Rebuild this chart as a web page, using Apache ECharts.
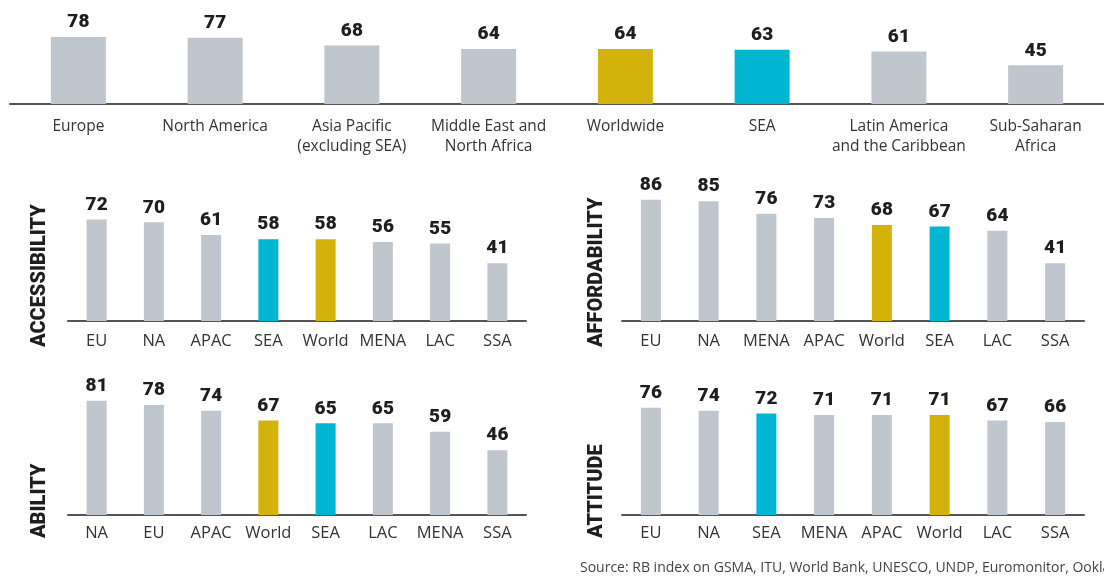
<!DOCTYPE html>
<html>
<head>
<meta charset="utf-8">
<script src="https://cdn.jsdelivr.net/npm/echarts@6/dist/echarts.min.js"></script>
<style>
  html, body { margin: 0; padding: 0; background: #fff; }
  #chart { width: 1104px; height: 578px; }
</style>
</head>
<body>
<div id="chart"></div>
<script>
// data
var overallCats = ['Europe', 'North America', 'Asia Pacific\n(excluding SEA)', 'Middle East and\nNorth Africa',
  'Worldwide', 'SEA', 'Latin America\nand the Caribbean', 'Sub-Saharan\nAfrica'];
var overallVals = [78, 77, 68, 64, 64, 63, 61, 45];

var accessCats = ['EU', 'NA', 'APAC', 'SEA', 'World', 'MENA', 'LAC', 'SSA'];
var accessVals = [72, 70, 61, 58, 58, 56, 55, 41];

var affordCats = ['EU', 'NA', 'MENA', 'APAC', 'World', 'SEA', 'LAC', 'SSA'];
var affordVals = [86, 85, 76, 73, 68, 67, 64, 41];

var abilityCats = ['NA', 'EU', 'APAC', 'World', 'SEA', 'LAC', 'MENA', 'SSA'];
var abilityVals = [81, 78, 74, 67, 65, 65, 59, 46];

var attitudeCats = ['EU', 'NA', 'SEA', 'MENA', 'APAC', 'World', 'LAC', 'SSA'];
var attitudeVals = [76, 74, 72, 71, 71, 71, 67, 66];

var GREY = '#c0c6cd', YELLOW = '#d4b20c', CYAN = '#00b5d1';
var FONT = '"Open Sans", Roboto, sans-serif';
var BOLD = 'Roboto, "Noto Sans", sans-serif';

function colorFor(cat) {
  if (cat === 'SEA') return CYAN;
  if (cat === 'World' || cat === 'Worldwide') return YELLOW;
  return GREY;
}

var panels = [
  { cats: overallCats, vals: overallVals, grid: { left: 10, top: 18, width: 1101, height: 86 }, barWidth: 55, catSize: 15.5, margin: 13 },
  { cats: accessCats, vals: accessVals, grid: { left: 68, top: 180, width: 458, height: 141 }, barWidth: 20, catSize: 16.5, margin: 10 },
  { cats: affordCats, vals: affordVals, grid: { left: 622, top: 180, width: 462, height: 141 }, barWidth: 20, catSize: 16.5, margin: 10 },
  { cats: abilityCats, vals: abilityVals, grid: { left: 68, top: 374, width: 458, height: 141 }, barWidth: 20, catSize: 16.5, margin: 8 },
  { cats: attitudeCats, vals: attitudeVals, grid: { left: 622, top: 374, width: 462, height: 141 }, barWidth: 20, catSize: 16.5, margin: 8 }
];

var grids = [], xAxes = [], yAxes = [], series = [];
panels.forEach(function (p, i) {
  grids.push(p.grid);
  xAxes.push({
    type: 'category', gridIndex: i, data: p.cats,
    axisLine: { lineStyle: { color: '#555', width: 2 } },
    axisTick: { show: false },
    axisLabel: { color: '#333', fontSize: p.catSize, fontFamily: FONT, margin: p.margin, lineHeight: 20, interval: 0 }
  });
  yAxes.push({ type: 'value', gridIndex: i, min: 0, max: 100, show: false });
  series.push({
    type: 'bar', xAxisIndex: i, yAxisIndex: i, barWidth: p.barWidth,
    data: p.vals.map(function (v, k) { return { value: v, itemStyle: { color: colorFor(p.cats[k]) } }; }),
    label: { show: true, position: 'top', distance: 5, color: '#1e1e1e', fontSize: 19, fontWeight: 900, fontFamily: BOLD },
    silent: true
  });
});

function sideTitle(text, x, bottom) {
  return {
    type: 'text', x: x, y: bottom, rotation: Math.PI / 2,
    style: { text: text, fill: '#1e1e1e', font: '900 20px ' + BOLD, textAlign: 'left', textVerticalAlign: 'middle' }
  };
}

var chart = echarts.init(document.getElementById('chart'));
chart.setOption({
  animation: false,
  grid: grids,
  xAxis: xAxes,
  yAxis: yAxes,
  series: series,
  graphic: [
    sideTitle('ACCESSIBILITY', 40, 347),
    sideTitle('AFFORDABILITY', 597, 347),
    sideTitle('ABILITY', 40, 538),
    sideTitle('ATTITUDE', 597, 538),
    {
      type: 'text', x: 580, y: 568,
      style: { text: 'Source: RB index on GSMA, ITU, World Bank, UNESCO, UNDP, Euromonitor, Ookla', fill: '#444', font: '14px ' + FONT, textVerticalAlign: 'middle' }
    }
  ]
});
</script>
</body>
</html>
